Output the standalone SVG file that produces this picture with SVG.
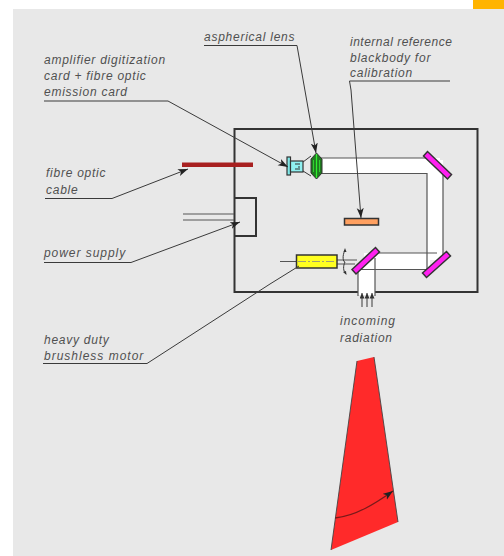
<svg xmlns="http://www.w3.org/2000/svg" width="504" height="556" viewBox="0 0 504 556">
<style>
.t{font-family:"Liberation Sans",Arial,sans-serif;font-style:italic;font-size:12px;fill:#505050;letter-spacing:.75px}
.l{fill:none;stroke:#3a3a3a;stroke-width:1}
.b{fill:#fff;stroke:none}
.e{fill:none;stroke:#555;stroke-width:1.2}
.m{fill:#ff20f0;stroke:#333;stroke-width:1.500}
</style>
<defs>
<marker id="a" markerWidth="11" markerHeight="8" refX="10" refY="4" orient="auto" markerUnits="userSpaceOnUse"><path d="M0 .5L10 4L0 7.500L2.500 4Z" fill="#222"/></marker>
<marker id="s" markerWidth="6" markerHeight="5" refX="5.500" refY="2.500" orient="auto" markerUnits="userSpaceOnUse"><path d="M0 0L5.500 2.500L0 5Z" fill="#333"/></marker>
</defs>
<rect width="504" height="556" fill="#fff"/>
<rect x="13" y="9" width="491" height="547" fill="#e8e8e8"/>
<rect x="473" y="0" width="31" height="9" fill="#ffb400"/>

<g id="housing"><path d="M358 292H234.500V129H477.500V292H375" fill="none" stroke="#333" stroke-width="2"/></g>

<g id="beam">
<rect class="b" x="320" y="158" width="120" height="15.500"/>
<rect class="b" x="427" y="160" width="16" height="100"/>
<rect class="b" x="364" y="253" width="66" height="16.500"/>
<rect class="b" x="358" y="262" width="17" height="33"/>
<path class="e" d="M320 158H433M320 173.500H427V269M443 173V259M374 253H437M359 269.500H427M358 269V296M375 258V296"/>
</g>

<g id="power-supply-box"><path d="M234.500 198H256V236H234.500" fill="none" stroke="#333" stroke-width="2"/><path d="M183 214H234M183 220H234" fill="none" stroke="#555" stroke-width="1"/></g>
<g id="fibre-cable"><rect x="182" y="162.500" width="71" height="4.500" fill="#a82020"/></g>

<g id="detector">
<path d="M303 162L311 156M303 171L311 176" class="l"/>
<rect x="287" y="157" width="3.500" height="18" fill="#80e8e8" stroke="#333" stroke-width="1.200"/>
<rect x="290.500" y="161" width="12.500" height="11" fill="#90f0f0" stroke="#333" stroke-width="1.200"/>
<path d="M295 164H300M295 169H300M299 166V168" stroke="#333" fill="none"/>
</g>
<g id="lens">
<path d="M316.500 153L322 159V173L316.500 179L311 173V159Z" fill="#1f7a1f" stroke="#333" stroke-width="1"/>
<path d="M316.500 154V178" stroke="#30f030" stroke-width="1.200"/><path d="M313.500 160V172M319.500 160V172" stroke="#30d030" stroke-width="1"/>
</g>
<g id="mirror-top"><path class="m" d="M423.500 156L427.500 151.500L451.500 174.500L447.500 179Z"/></g>
<g id="mirror-right"><path class="m" d="M422.500 273L426.500 277.500L450.500 256L446.500 251.500Z"/></g>
<g id="mirror-left"><path class="m" d="M352 269.500L356 274L379.500 252L375.500 247.500Z"/></g>
<g id="blackbody"><rect x="344.500" y="218.500" width="34" height="6.500" fill="#ffa060" stroke="#333" stroke-width="1.500"/></g>
<g id="motor">
<path d="M280 261.500H296M337 260H357M337 264H355" stroke="#555" fill="none"/>
<rect x="296.500" y="255" width="40.500" height="13" fill="#ffff20" stroke="#333" stroke-width="1.500"/>
<path d="M298 261.500H335" stroke="#888" stroke-width=".8" stroke-dasharray="8 2 2 2" fill="none"/>
<path d="M345 250C342 256 343 262 345 262C343 266 343 271 346 274" fill="none" stroke="#333" stroke-width="1"/>
<path d="M345 248L346.500 252H343.500ZM346.500 275L343 272L346 271Z" fill="#333"/>
</g>
<g id="cone">
<path d="M357 361L374 357L398 522L331 550Z" fill="#ff2a2a"/>
<path d="M357 361L331 550M374 357L398 522" fill="none" stroke="#444" stroke-width=".9"/>
<path d="M335 518C356 516 376 503 393 491" fill="none" stroke="#7a1a1a" stroke-width="1.300" marker-end="url(#a)"/>
</g>

<g id="connectors">
<path class="l" d="M204 45.500H297L316 153" marker-end="url(#a)"/>
<path class="l" d="M349.500 81H450M349.500 81L351 90L361 218" marker-end="url(#a)"/>
<path class="l" d="M44 101H168L288 167" marker-end="url(#a)"/>
<path class="l" d="M45 198.500H112L188 169" marker-end="url(#a)"/>
<path class="l" d="M44 262.500H131L240 222" marker-end="url(#a)"/>
<path class="l" d="M43 363.500H147L270 284L299 266"/>
<path class="l" d="M362 307V293" marker-end="url(#s)"/>
<path class="l" d="M367 307V293" marker-end="url(#s)"/>
<path class="l" d="M372 307V293" marker-end="url(#s)"/>
</g>

<g id="labels">
<text class="t" x="204" y="41" letter-spacing=".9">aspherical lens</text>
<text class="t" x="350" y="46" style="letter-spacing:.5px">internal reference</text>
<text class="t" x="350" y="61.500">blackbody for</text>
<text class="t" x="350" y="77">calibration</text>
<text class="t" x="44" y="64">amplifier digitization</text>
<text class="t" x="44" y="80">card + fibre optic</text>
<text class="t" x="44" y="96">emission card</text>
<text class="t" x="46" y="177">fibre optic</text>
<text class="t" x="46" y="193.500">cable</text>
<text class="t" x="44" y="257" style="letter-spacing:.95px">power supply</text>
<text class="t" x="44" y="344">heavy duty</text>
<text class="t" x="44" y="360" style="letter-spacing:1px">brushless motor</text>
<text class="t" x="340" y="325" style="letter-spacing:1px">incoming</text>
<text class="t" x="340" y="342">radiation</text>
</g>
</svg>
